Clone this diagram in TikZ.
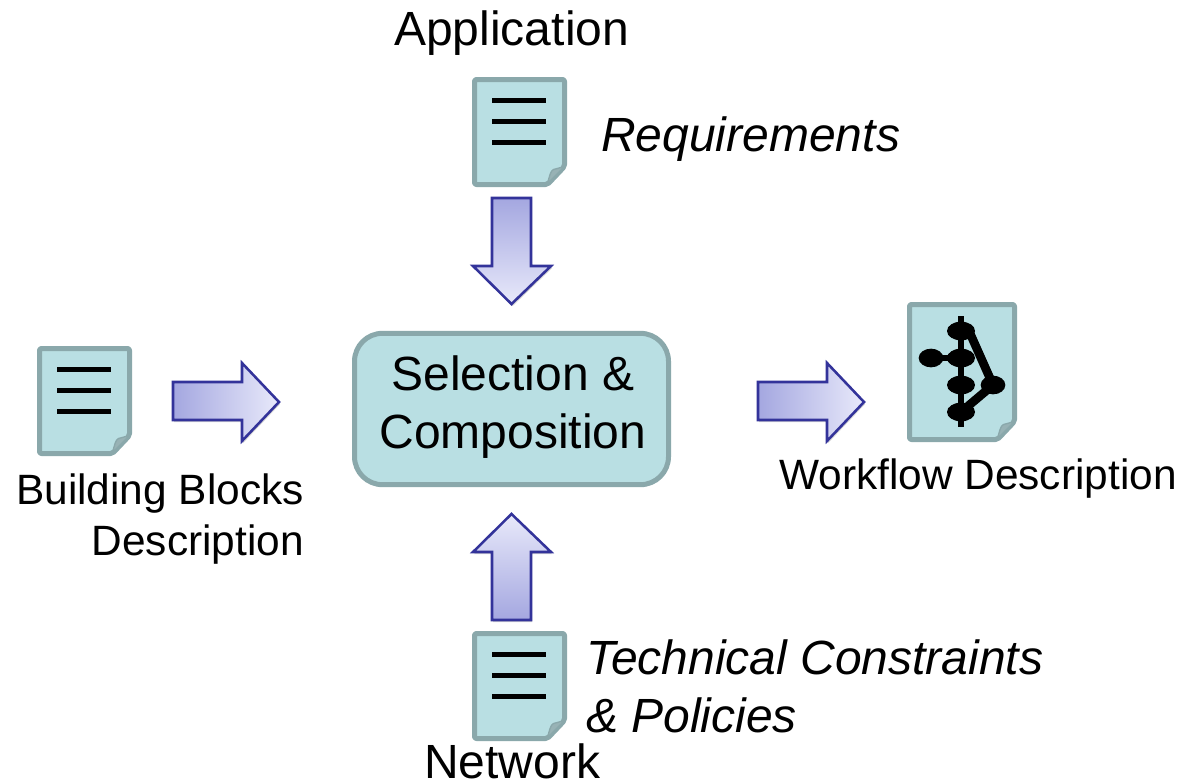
\documentclass[tikz,border=0pt]{standalone}
\usepackage{fontspec}
\setmainfont{Liberation Sans}
\usetikzlibrary{shadows,shapes.geometric}
\definecolor{docfill}{HTML}{B9DFE3}
\definecolor{docline}{HTML}{8AA8AB}
\definecolor{arrline}{HTML}{33339A}
\definecolor{arrdark}{HTML}{A4A7E0}
\definecolor{arrlight}{HTML}{E8E9FA}
\tikzset{
  x=0.75pt,y=-0.75pt,
  bigtext/.style={font=\fontsize{36}{43.5}\selectfont,inner sep=0pt,text=black},
  smalltext/.style={font=\fontsize{31.8}{38.5}\selectfont,inner sep=0pt,text=black},
  page/.style={draw=docline,line width=3.75pt,fill=docfill,line join=round},
  foldmark/.style={fill=docline!88!white,draw=docline,line width=1pt,line join=round},
  bar/.style={line width=4.1pt,black},
  blockarrow/.style={draw=arrline,line width=1.9pt,miter limit=4,
    drop shadow={shadow xshift=0.8pt,shadow yshift=-1.6pt,opacity=.16,fill=black}},
  flowedge/.style={line width=5pt,black},
  flowlink/.style={line width=6.5pt,black},
  flowdot/.style={ellipse,fill=black,inner sep=0pt,minimum width=21pt,minimum height=14pt},
  sidedot/.style={flowdot,minimum width=18.5pt},
}
% #1 name, #2 left, #3 top, #4 right, #5 bottom (centre of stroke)
\newcommand{\docpage}[5]{%
  \draw[page,rounded corners=1.5pt] (#2,#3) -- (#4,#3) -- (#4,#5-18) -- (#4-17,#5) -- (#2,#5) -- cycle;
  \fill[foldmark] (#4-17,#5-1) .. controls (#4-15,#5-8) and (#4-14,#5-14) .. (#4-11,#5-15) -- (#4,#5-18) -- cycle;
  \node[inner sep=0pt,minimum size=1pt] (#1) at ({(#2+#4)/2},{(#3+#5)/2}) {};
}
\newcommand{\docbars}[3]{%
  \draw[bar] (#2-27,#3) -- (#2+27,#3);
  \draw[bar] (#2-27,#3+21) -- (#2+27,#3+21);
  \draw[bar] (#2-27,#3+42) -- (#2+27,#3+42);
}
\begin{document}
\begin{tikzpicture}
\useasboundingbox (0,0) rectangle (1181,782);

% documents
\docpage{req}{474.5}{79.5}{564.5}{184.5}
\docbars{req}{519}{100.7}
\docpage{blocks}{39.5}{348.5}{129.5}{453.5}
\docbars{blocks}{84}{369.7}
\docpage{tech}{474.5}{633.5}{564.5}{738.5}
\docbars{tech}{519}{654.7}
\docpage{flow}{909.5}{304.5}{1014.5}{439.5}

% workflow glyph
\node[flowdot] (w1) at (961,331) {};
\node[flowdot] (w2) at (961,358) {};
\node[flowdot] (w3) at (961,385) {};
\node[flowdot] (w4) at (961,412) {};
\node[sidedot] (w5) at (931,358) {};
\node[sidedot] (w6) at (993,385) {};
\coordinate (wt) at (961,316);
\coordinate (wb) at (961,426.5);
\coordinate (wc) at (969,331);
\draw[flowedge] (wt) -- (wb);
\draw[flowedge] (w5.center) -- (w2.center);
\draw[flowlink] (wc) -- (w6.center);
\draw[flowlink] (w4.center) -- (w6.center);

% centre box
\node[draw=docline,line width=3.75pt,fill=docfill,rounded corners=21pt,
  minimum width=235.5pt,minimum height=113.5pt] (sel) at (511.5,409) {};
\node[bigtext,align=center] (seltext) at (513,407) {Selection \&\\Composition};

% block arrows
\path[blockarrow,left color=arrdark,right color=arrlight]
  (173,382) -- (242,382) -- (242,363) -- (279,402) -- (242,441) -- (242,420) -- (173,420) -- cycle;
\path[blockarrow,left color=arrdark,right color=arrlight]
  (758,382) -- (827,382) -- (827,363) -- (864,402) -- (827,441) -- (827,420) -- (758,420) -- cycle;
\path[blockarrow,top color=arrdark,bottom color=arrlight]
  (492,198) -- (531,198) -- (531,266) -- (551,266) -- (511.5,304) -- (473,266) -- (492,266) -- cycle;
\path[blockarrow,top color=arrlight,bottom color=arrdark]
  (492,620) -- (531,620) -- (531,552) -- (551,552) -- (511.5,514) -- (473,552) -- (492,552) -- cycle;

% labels
\node[bigtext,anchor=base west] (lapp) at (394,45) {Application};
\node[bigtext,anchor=base west] (lreq) at (601,151) {\itshape Requirements};
\node[bigtext,anchor=base west] (ltech) at (586,674.5) {\itshape Technical Constraints};
\node[bigtext,anchor=base west] (lpol) at (586,732) {\itshape \& Policies};
\node[bigtext,anchor=base west] (lnet) at (424,778) {Network};
\node[smalltext,anchor=base east] (lbb) at (304,504) {Building Blocks};
\node[smalltext,anchor=base east] (ldesc) at (304,555.5) {Description};
\node[smalltext,anchor=base west] (lwf) at (779,489.5) {Workflow Description};
\end{tikzpicture}
\end{document}
